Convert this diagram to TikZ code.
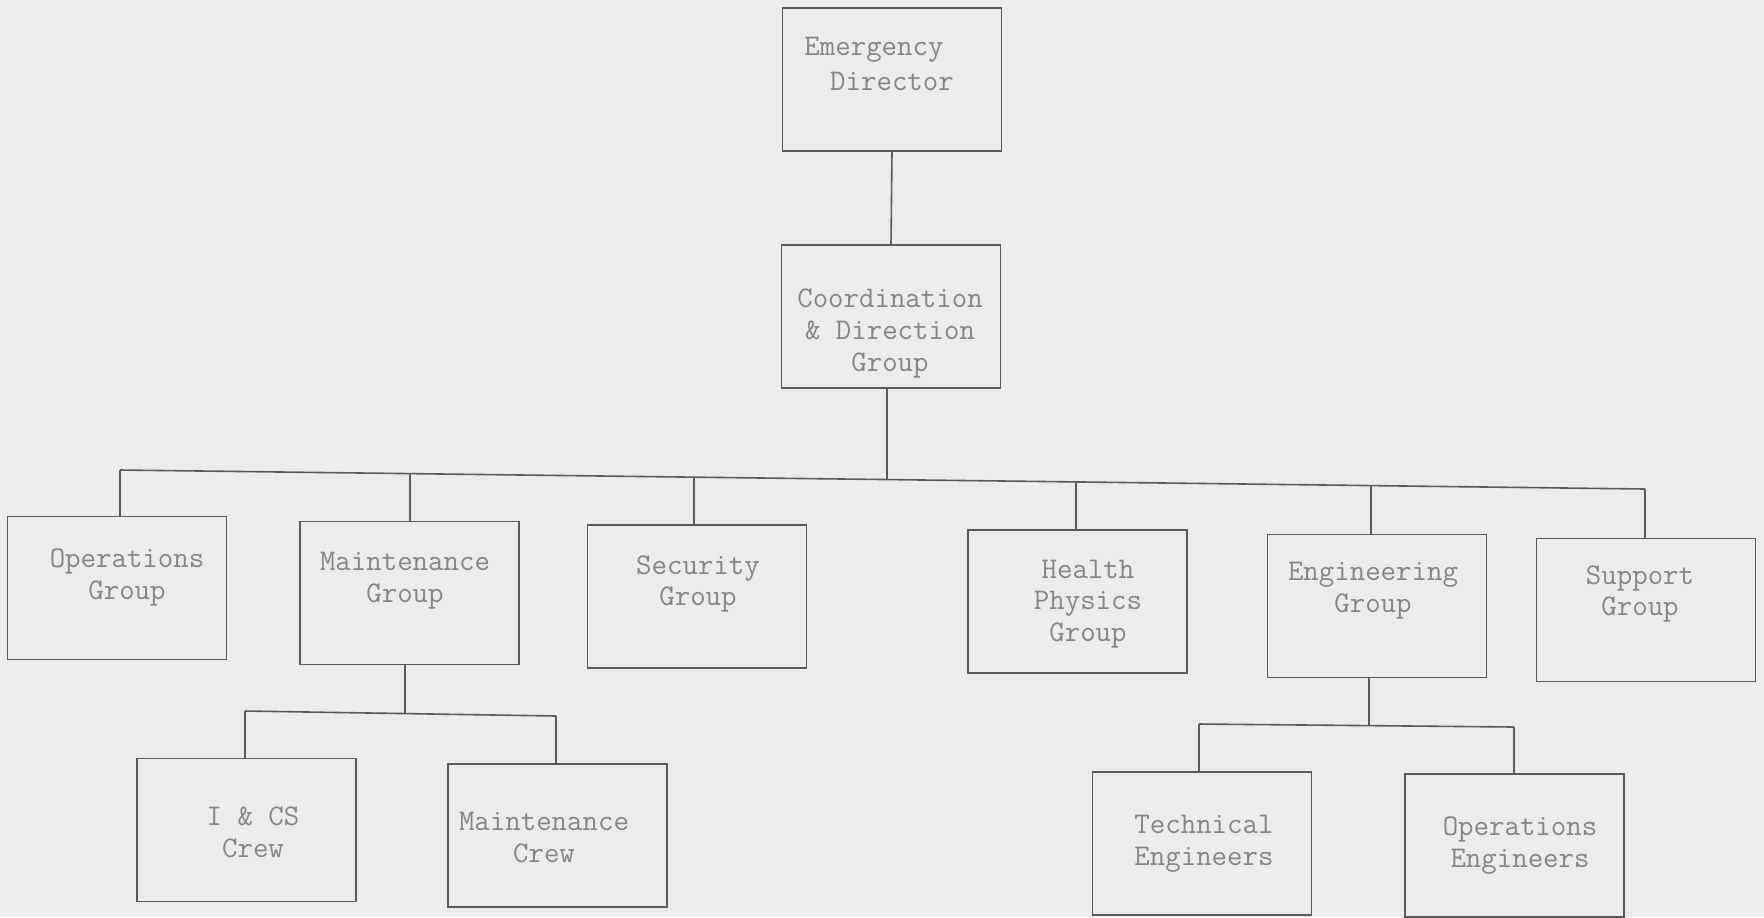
\documentclass[tikz,border=0pt]{standalone}
\usepackage{tikz}
\definecolor{bgc}{HTML}{ECECEC}
\definecolor{linec}{HTML}{5A5A5A}
\definecolor{txtc}{HTML}{858585}
\tikzset{
  box/.style={draw=linec, line width=0.8pt, minimum width=109.5pt, minimum height=71.5pt, inner sep=0pt},
  lbl/.style={text=txtc, font=\fontsize{15}{15.9}\selectfont\ttfamily, align=center, inner sep=0pt},
  conn/.style={draw=linec, line width=0.8pt}
}
\begin{document}
\begin{tikzpicture}[x=0.5pt,y=-0.5pt]
\fill[bgc] (0,0) rectangle (1764,917);
\useasboundingbox (0,0) rectangle (1764,917);
% boxes
\node[box] (ed) at (892,79.5) {};
\node[box] (cd) at (891,316.5) {};
\node[box] (op) at (117,588) {};
\node[box] (mg) at (409.5,593) {};
\node[box] (sg) at (697,596.5) {};
\node[box] (hp) at (1077.5,601.5) {};
\node[box] (eg) at (1377,606) {};
\node[box] (su) at (1646,610) {};
\node[box] (ic) at (246.5,830) {};
\node[box] (mc) at (557.5,835.5) {};
\node[box] (te) at (1202,843.5) {};
\node[box] (oe) at (1514.5,845.5) {};
% labels
\node[lbl] (ed1) at (874,50) {Emergency};
\node[lbl] (ed2) at (892,81.5) {Director};
\node[lbl] (cdt) at (890,333.5) {Coordination\\\& Direction\\Group};
\node[lbl] (opt) at (127,577.5) {Operations\\Group};
\node[lbl] (mgt) at (405,580.5) {Maintenance\\Group};
\node[lbl] (sgt) at (698,584) {Security\\Group};
\node[lbl] (hpt) at (1088,604) {Health\\Physics\\Group};
\node[lbl] (egt) at (1373,590.5) {Engineering\\Group};
\node[lbl] (sut) at (1640,594) {Support\\Group};
\node[lbl] (ict) at (253,832.5) {I \& CS\\Crew};
\node[lbl] (mct) at (544,837.5) {Maintenance\\Crew};
\node[lbl] (tet) at (1204,843.5) {Technical\\Engineers};
\node[lbl] (oet) at (1520,845.5) {Operations\\Engineers};
% bus coordinates
\coordinate (bc) at (887,479.5);
\coordinate (b1) at (120,470);
\coordinate (b2) at (410,473.6);
\coordinate (b3) at (694,477.2);
\coordinate (b4) at (1076,481.9);
\coordinate (b5) at (1371,485.6);
\coordinate (b6) at (1645,489);
\coordinate (m0) at (405,713.5);
\coordinate (m1) at (245,711);
\coordinate (m2) at (556,716);
\coordinate (e0) at (1369,725.5);
\coordinate (e1) at (1199,724);
\coordinate (e2) at (1514,727);
% connectors
\draw[conn] (ed.south) -- (cd.north);
\draw[conn] (cd.south -| bc) -- (bc);
\draw[conn] (b1) -- (b6);
\draw[conn] (b1) -- (b1 |- op.north);
\draw[conn] (b2) -- (b2 |- mg.north);
\draw[conn] (b3) -- (b3 |- sg.north);
\draw[conn] (b4) -- (b4 |- hp.north);
\draw[conn] (b5) -- (b5 |- eg.north);
\draw[conn] (b6) -- (b6 |- su.north);
\draw[conn] (mg.south -| m0) -- (m0);
\draw[conn] (m1) -- (m2);
\draw[conn] (m1) -- (m1 |- ic.north);
\draw[conn] (m2) -- (m2 |- mc.north);
\draw[conn] (eg.south -| e0) -- (e0);
\draw[conn] (e1) -- (e2);
\draw[conn] (e1) -- (e1 |- te.north);
\draw[conn] (e2) -- (e2 |- oe.north);
\end{tikzpicture}
\end{document}
